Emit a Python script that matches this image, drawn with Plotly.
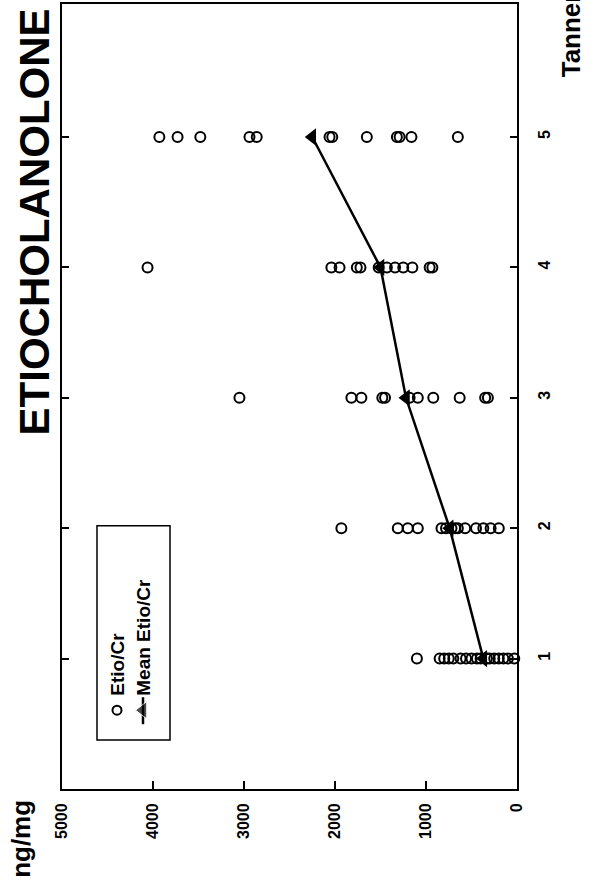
import plotly.graph_objects as go

# Tanner stages and individual Etio/Cr values (ng/mg)
stage1 = [1100, 850, 800, 750, 700, 620, 560, 500, 440, 400, 330, 300, 250, 200, 150, 100, 30]
stage2 = [1930, 1310, 1200, 1090, 830, 780, 720, 680, 650, 570, 450, 370, 290, 200]
stage3 = [3050, 1820, 1710, 1480, 1450, 1180, 1090, 920, 630, 350, 320]
stage4 = [4060, 2040, 1950, 1760, 1720, 1520, 1430, 1340, 1250, 1150, 960, 930]
stage5 = [3930, 3730, 3480, 2940, 2860, 2060, 2030, 1650, 1320, 1290, 1160, 650]

stages = [1, 2, 3, 4, 5]
mean_values = [370, 740, 1220, 1500, 2250]

value_ticks = [0, 1000, 2000, 3000, 4000, 5000]
stage_ticks = [1, 2, 3, 4, 5]

W, H = 596, 893
L, R, T, B = 62, 79, 2, 104
FONT = "Liberation Sans, Arial, sans-serif"


def px_x(px):
    return (px - L) / (W - L - R)


def px_y(py):
    return (H - B - py) / (H - T - B)


xs, ys = [], []
for s, vals in zip(stages, [stage1, stage2, stage3, stage4, stage5]):
    xs += vals
    ys += [s] * len(vals)

fig = go.Figure()

fig.add_trace(go.Scatter(
    x=xs, y=ys, mode="markers", name="Etio/Cr",
    marker=dict(symbol="circle-open", size=10, color="black", line=dict(width=2, color="black")),
    cliponaxis=False, showlegend=False,
))
fig.add_trace(go.Scatter(
    x=mean_values, y=stages, mode="lines+markers", name="Mean Etio/Cr",
    line=dict(color="black", width=2.5),
    marker=dict(symbol="triangle-left", size=15, color="black"),
    cliponaxis=False, showlegend=False,
))

# legend drawn on an overlay axis measured in screen pixels
fig.add_trace(go.Scatter(
    x=[117], y=[710], mode="markers", xaxis="x2", yaxis="y2",
    marker=dict(symbol="circle-open", size=9, color="black", line=dict(width=2, color="black")),
    showlegend=False, hoverinfo="skip", cliponaxis=False,
))
fig.add_trace(go.Scatter(
    x=[143, 143, 143], y=[697, 710, 724], mode="lines+markers", xaxis="x2", yaxis="y2",
    line=dict(color="black", width=2.5),
    marker=dict(symbol="triangle-left", size=[0, 15, 0], color="black"),
    showlegend=False, hoverinfo="skip", cliponaxis=False,
))

fig.add_shape(type="rect", xref="x2", yref="y2", x0=97, x1=170, y0=525, y1=740,
              line=dict(color="black", width=1.5), fillcolor="rgba(0,0,0,0)")

fig.add_annotation(xref="x2", yref="y2", x=118, y=698, text="<b>Etio/Cr</b>",
                   textangle=-90, showarrow=False, xanchor="center", yanchor="bottom",
                   font=dict(family=FONT, size=19, color="black"))
fig.add_annotation(xref="x2", yref="y2", x=144, y=698, text="<b>Mean Etio/Cr</b>",
                   textangle=-90, showarrow=False, xanchor="center", yanchor="bottom",
                   font=dict(family=FONT, size=19, color="black"))

# titles
fig.add_annotation(xref="paper", yref="paper", x=px_x(34), y=px_y(221),
                   text="<b>ETIOCHOLANOLONE</b>", textangle=-90, showarrow=False,
                   xanchor="center", yanchor="middle",
                   font=dict(family=FONT, size=42, color="black"))
fig.add_annotation(xref="paper", yref="paper", x=px_x(571), y=px_y(78),
                   text="<b>Tanner Stage</b>", textangle=-90, showarrow=False,
                   xanchor="center", yanchor="bottom",
                   font=dict(family=FONT, size=26, color="black"))
fig.add_annotation(xref="paper", yref="paper", x=px_x(21), y=px_y(839),
                   text="<b>ng/mg</b>", textangle=-90, showarrow=False,
                   xanchor="center", yanchor="middle",
                   font=dict(family=FONT, size=26, color="black"))

fig.update_layout(
    width=W, height=H,
    margin=dict(l=L, r=R, t=T, b=B),
    paper_bgcolor="white", plot_bgcolor="white",
    xaxis=dict(
        range=[5000, 0], tickvals=value_ticks, ticktext=[str(v) for v in value_ticks],
        ticks="inside", ticklen=8, tickwidth=2, tickcolor="black",
        showline=True, linewidth=2, linecolor="black", mirror=True,
        tickangle=-90, ticklabelstandoff=6,
        tickfont=dict(family=FONT, size=16, color="black", weight="bold"),
        showgrid=False, zeroline=False,
    ),
    yaxis=dict(
        range=[0, 6.02], side="right", tickvals=stage_ticks,
        ticktext=[str(v) for v in stage_ticks],
        ticks="inside", ticklen=7, tickwidth=2, tickcolor="black",
        showline=True, linewidth=2, linecolor="black", mirror="ticks",
        tickangle=-90, ticklabelstandoff=12,
        tickfont=dict(family=FONT, size=16, color="black", weight="bold"),
        showgrid=False, zeroline=False,
    ),
    xaxis2=dict(range=[L, W - R], overlaying="x", anchor="y2", visible=False, fixedrange=True),
    yaxis2=dict(range=[H - B, T], overlaying="y", anchor="x2", visible=False, fixedrange=True),
)

fig.write_html("out.html")
